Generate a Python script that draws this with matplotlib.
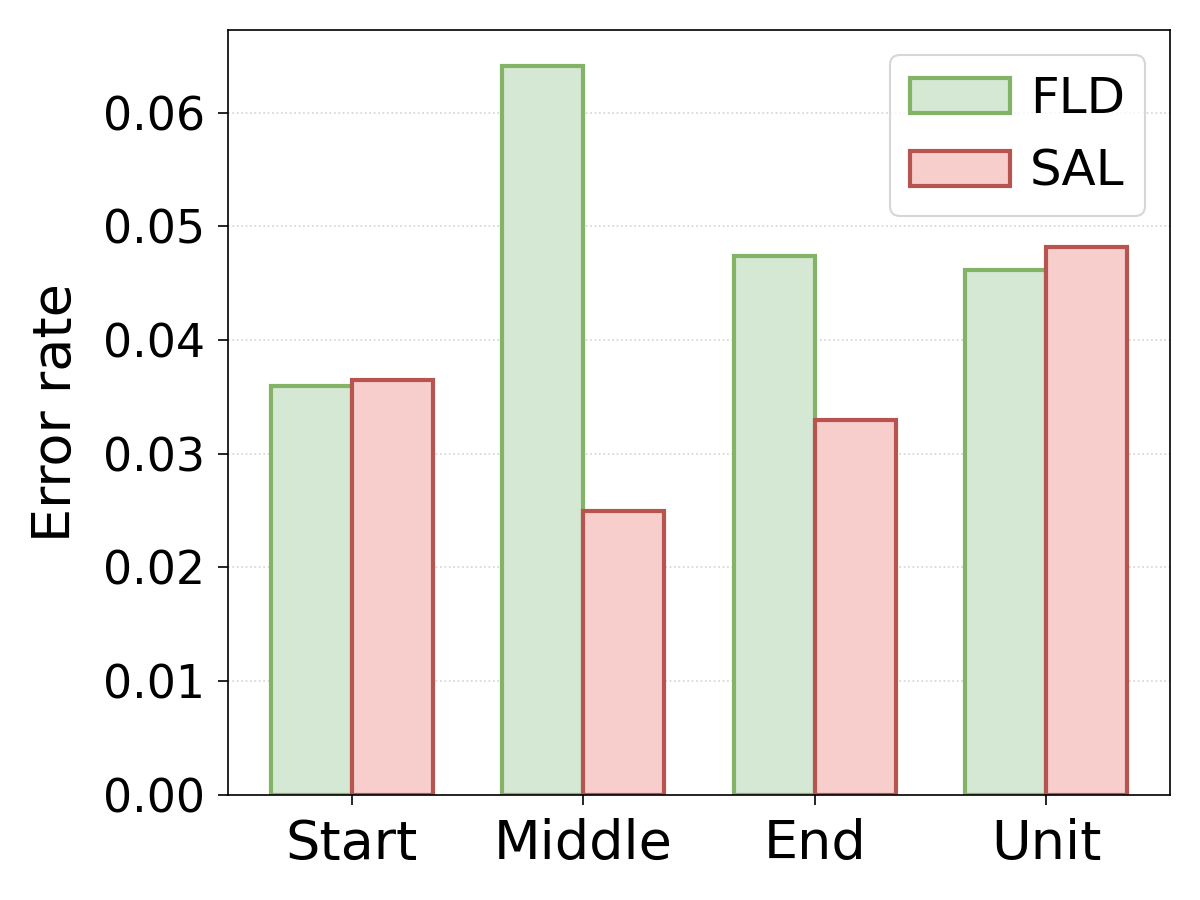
import numpy as np
import matplotlib
matplotlib.use("Agg")
import matplotlib.pyplot as plt

categories = ["Start", "Middle", "End", "Unit"]
fld = [0.0360, 0.0641, 0.0474, 0.0462]
sal = [0.0365, 0.0250, 0.0330, 0.0482]

x = np.arange(len(categories))
width = 0.35

fig, ax = plt.subplots(figsize=(8, 6), dpi=150)
ax.bar(x - width / 2, fld, width, label="FLD",
       color="#D5E8D4", edgecolor="#82B366", linewidth=2)
ax.bar(x + width / 2, sal, width, label="SAL",
       color="#F8CECC", edgecolor="#B85450", linewidth=2)

ax.set_xticks(x)
ax.set_xticklabels(categories, fontsize=26)
ax.tick_params(axis="both", length=5, pad=6)
ax.tick_params(axis="y", labelsize=22)
ax.set_ylabel("Error rate", fontsize=26, labelpad=10)
ax.yaxis.grid(True, linestyle=":", color="lightgray")
ax.set_axisbelow(True)
ax.legend(fontsize=24, loc="upper right", handletextpad=0.4)

fig.subplots_adjust(left=0.19, right=0.975, top=0.967, bottom=0.117)
plt.savefig("out.png", dpi=150)
